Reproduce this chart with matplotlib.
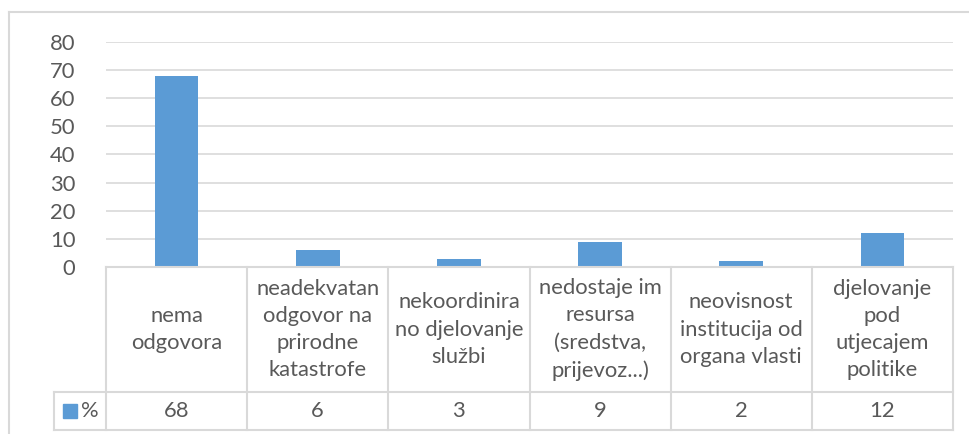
import matplotlib.pyplot as plt
from matplotlib.lines import Line2D
from matplotlib.patches import Rectangle

categories = [
    "nema\nodgovora",
    "neadekvatan\nodgovor na\nprirodne\nkatastrofe",
    "nekoordinira\nno djelovanje\nslužbi",
    "nedostaje im\nresursa\n(sredstva,\nprijevoz...)",
    "neovisnost\ninstitucija od\norgana vlasti",
    "djelovanje\npod\nutjecajem\npolitike",
]
values = [68, 6, 3, 9, 2, 12]
series_name = "%"
yticks = [0, 10, 20, 30, 40, 50, 60, 70, 80]

BAR = "#5B9BD5"
TXT = "#595959"
GRID = "#D9D9D9"
FS = 15.8
plt.rcParams["font.family"] = ["Lato", "DejaVu Sans"]

W, H = 969, 434
fig = plt.figure(figsize=(W / 100, H / 100), dpi=100)
ax = fig.add_axes([106 / W, (H - 267) / H, (953 - 106) / W, (267 - 42) / H])

n = len(categories)
xs = list(range(n))
ax.bar(xs, values, width=0.31, color=BAR, zorder=3)
ax.set_xlim(-0.5, n - 0.5)
ax.set_ylim(0, 80)
ax.set_yticks(yticks)
ax.set_yticklabels([str(t) for t in yticks], fontsize=FS, color=TXT)
ax.tick_params(axis="y", length=0, pad=22)
ax.set_xticks([])
ax.grid(axis="y", color=GRID, linewidth=1.2, zorder=0)
for s in ax.spines.values():
    s.set_visible(False)

# data table under the plot: x in data units, y in axes fraction
tr = ax.get_xaxis_transform()
row1 = -125 / 225
row2 = -163 / 225
xleg = -0.5 - 52 / (847 / n)

def hline(x0, x1, y):
    ax.add_line(Line2D([x0, x1], [y, y], transform=tr, color=GRID,
                       linewidth=1.5, clip_on=False, zorder=4))

def vline(x, y0, y1):
    ax.add_line(Line2D([x, x], [y0, y1], transform=tr, color=GRID,
                       linewidth=1.5, clip_on=False, zorder=4))

hline(-0.5, n - 0.5, 0)
hline(xleg, n - 0.5, row1)
hline(xleg, n - 0.5, row2)
for i in range(n + 1):
    vline(i - 0.5, 0, row2)
vline(xleg, row1, row2)

for i, (c, v) in enumerate(zip(categories, values)):
    ax.text(i, row1 / 2, c, transform=tr, ha="center", va="center",
            fontsize=FS, color=TXT, linespacing=1.45)
    ax.text(i, (row1 + row2) / 2, str(v), transform=tr, ha="center",
            va="center", fontsize=FS, color=TXT)

# legend key in the first table cell
ax.add_patch(Rectangle((xleg + 9 / 141.2, (row1 + row2) / 2 - 7 / 225),
                       14 / 141.2, 14 / 225, transform=tr, color=BAR,
                       clip_on=False))
ax.text(xleg + 27 / 141.2, (row1 + row2) / 2, series_name, transform=tr,
        ha="left", va="center", fontsize=FS, color=TXT)

# chart frame
fig.add_artist(Line2D([9 / W, 9 / W], [0, (H - 12) / H], color=GRID, linewidth=1.5))
fig.add_artist(Line2D([9 / W, 1], [(H - 12) / H, (H - 12) / H], color=GRID, linewidth=1.5))

fig.savefig("out.png", dpi=100, facecolor="white")
